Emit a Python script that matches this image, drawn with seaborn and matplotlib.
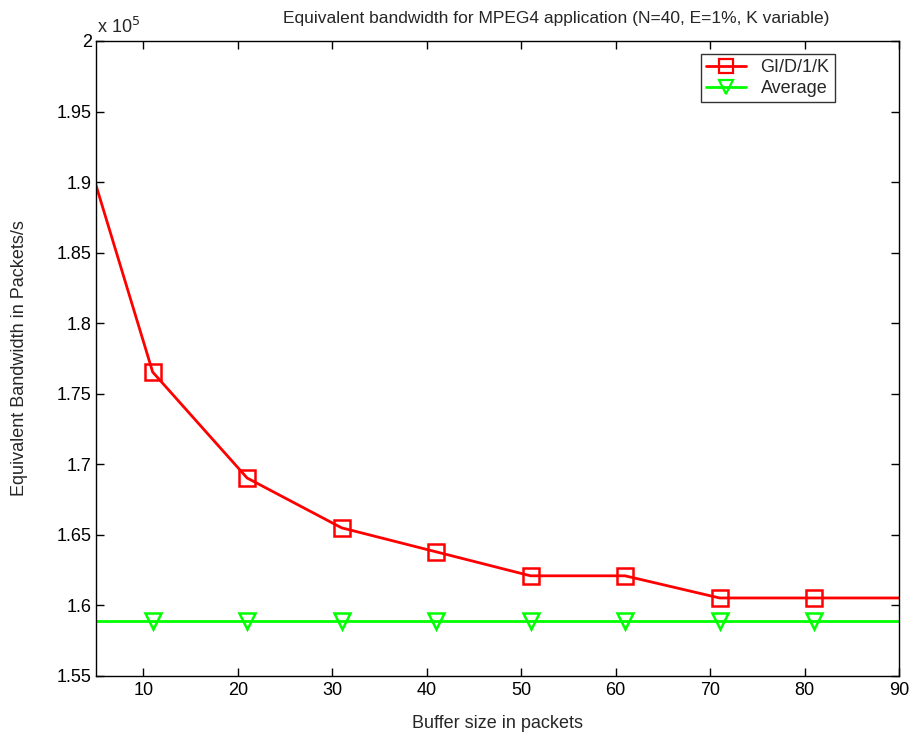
import matplotlib
matplotlib.use("Agg")
import matplotlib.pyplot as plt
import seaborn as sns
import pandas as pd
from matplotlib.ticker import FuncFormatter, FixedLocator
from matplotlib.lines import Line2D

# Data (packets/s)
buffer_size = [1, 11, 21, 31, 41, 51, 61, 71, 81, 91]
gi_d_1_k = [198600, 176540, 169030, 165500, 163800, 162100, 162100, 160530, 160530, 160530]
average = [158900] * 10
series_names = ["GI/D/1/K", "Average"]
x_ticks = [10, 20, 30, 40, 50, 60, 70, 80, 90]
y_ticks = [155000, 160000, 165000, 170000, 175000, 180000, 185000, 190000, 195000, 200000]

df = pd.DataFrame({
    "Buffer": buffer_size * 2,
    "Value": gi_d_1_k + average,
    "Series": [series_names[0]] * len(buffer_size) + [series_names[1]] * len(buffer_size),
})

sns.set_style("white")
plt.rcParams["font.family"] = ["Liberation Sans", "DejaVu Sans"]

fig = plt.figure(figsize=(9.13, 7.38), dpi=100)
ax = fig.add_axes([96 / 913, 1 - 676 / 738, (899 - 96) / 913, (676 - 41) / 738])

sns.lineplot(data=df, x="Buffer", y="Value", hue="Series", style="Series",
             palette={"GI/D/1/K": "#ff0000", "Average": "#00ff00"},
             markers={"GI/D/1/K": "s", "Average": "v"}, dashes=False,
             linewidth=2, markersize=11, markeredgewidth=1.8, fillstyle="none",
             ax=ax, legend=False)
for ln in ax.lines:
    ln.set_markerfacecolor("none")
    ln.set_markeredgecolor(ln.get_color())

ax.set_xlim(5, 90)
ax.set_ylim(155000, 200000)
ax.xaxis.set_major_locator(FixedLocator(x_ticks))
ax.yaxis.set_major_locator(FixedLocator(y_ticks))
ax.yaxis.set_major_formatter(FuncFormatter(lambda v, p: "%g" % (v / 1e5)))

for s in ax.spines.values():
    s.set_color("black")
    s.set_linewidth(1.0)
ax.tick_params(direction="in", length=6, width=1, top=True, right=True,
               bottom=True, left=True, labelsize=13, colors="black")
ax.tick_params(axis="x", pad=4)
ax.tick_params(axis="y", pad=3)

ax.set_xlabel("Buffer size in packets", fontsize=13)
ax.xaxis.set_label_coords(0.5, (676 - 723) / 635)
ax.xaxis.label.set_va("center")
ax.set_ylabel("Equivalent Bandwidth in Packets/s", fontsize=13)
ax.yaxis.set_label_coords((19 - 96) / 803, 0.5)
ax.yaxis.label.set_va("center")
fig.text(556 / 913, 1 - 19 / 738, "Equivalent bandwidth for MPEG4 application (N=40, E=1%, K variable)",
         ha="center", va="center", fontsize=12.5)
fig.text(97 / 913, 1 - 27 / 738, r"x 10$^{5}$", ha="left", va="center", fontsize=13)

handles = [
    Line2D([], [], color="#ff0000", marker="s", markersize=10, markerfacecolor="none",
           markeredgewidth=1.6, lw=2),
    Line2D([], [], color="#00ff00", marker="v", markersize=10, markerfacecolor="none",
           markeredgewidth=1.6, lw=2),
]
leg = ax.legend(handles, series_names, loc="upper right", bbox_to_anchor=(835 / 913, 1 - 54 / 738),
                bbox_transform=fig.transFigure, fontsize=13, frameon=True, fancybox=False,
                edgecolor="black", handlelength=2.2, borderpad=0.3, labelspacing=0.2,
                handletextpad=0.8, borderaxespad=0)
leg.get_frame().set_linewidth(1.0)

fig.savefig("out.png", dpi=100, facecolor="white")
